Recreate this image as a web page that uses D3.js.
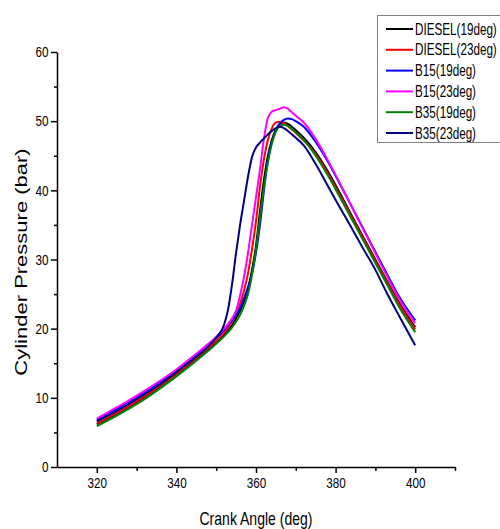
<!DOCTYPE html>
<html>
<head>
<meta charset="utf-8">
<script src="https://cdn.jsdelivr.net/npm/d3@7"></script>
<style>
  body { margin: 0; background: #fff; }
  svg { display: block; font-family: "Liberation Sans", Arial, sans-serif; }
</style>
</head>
<body>
<div id="chart"></div>
<script>
// crank angle (deg) shared by every series
var angles = [320, 324, 328, 332, 336, 340, 344, 348, 350, 352,
  353, 354, 355, 356, 357, 358, 359, 360, 361, 362, 363, 364, 365, 366, 367, 368, 369, 370,
  372, 375, 378, 381, 384, 387, 390, 393, 396, 400];

// cylinder pressure (bar)
var diesel19 = [6.2, 7.4, 8.7, 10.1, 11.7, 13.4, 15.2, 17.0, 18.0, 19.2,
  19.8, 20.5, 21.5, 22.6, 24.0, 25.8, 28.5, 32.0, 37.0, 41.5, 45.0, 47.3, 48.8, 49.6, 49.8, 49.6, 49.2, 48.7,
  47.6, 45.5, 42.8, 39.7, 36.4, 33.2, 30.0, 26.8, 23.7, 20.2];
var diesel23 = [6.3, 7.5, 8.8, 10.2, 11.8, 13.5, 15.3, 17.2, 18.2, 19.4,
  20.1, 21.0, 22.0, 23.6, 25.5, 28.0, 31.5, 35.5, 40.5, 44.5, 47.3, 49.0, 49.8, 49.9, 49.7, 49.3, 48.8, 48.3,
  47.2, 45.2, 42.5, 39.4, 36.2, 33.0, 29.8, 26.6, 23.5, 19.9];
var b15_19 = [6.8, 8.1, 9.4, 10.8, 12.3, 13.9, 15.7, 17.6, 18.6, 19.8,
  20.5, 21.2, 22.0, 23.0, 24.4, 26.0, 28.0, 31.0, 35.0, 40.0, 44.5, 47.0, 48.7, 49.7, 50.2, 50.4, 50.3, 50.0,
  49.2, 47.0, 44.2, 41.0, 37.7, 34.4, 31.1, 27.8, 24.6, 21.2];
var b15_23 = [7.0, 8.3, 9.6, 11.0, 12.5, 14.1, 15.9, 17.8, 18.8, 20.0,
  20.7, 21.5, 22.6, 24.8, 27.5, 31.0, 35.0, 39.0, 43.0, 47.5, 50.5, 51.4, 51.6, 51.8, 52.0, 51.8, 51.3, 50.8,
  49.8, 47.4, 44.4, 41.1, 37.7, 34.3, 30.9, 27.5, 24.3, 20.8];
var b35_19 = [5.9, 7.1, 8.4, 9.8, 11.4, 13.1, 14.9, 16.8, 17.8, 18.9,
  19.5, 20.2, 21.0, 22.0, 23.3, 25.0, 27.8, 31.5, 36.0, 40.5, 44.0, 46.8, 48.5, 49.3, 49.5, 49.3, 48.9, 48.4,
  47.3, 45.0, 42.2, 39.1, 35.9, 32.7, 29.5, 26.3, 23.1, 19.5];
var b35_23 = [6.6, 7.8, 9.1, 10.5, 12.0, 13.7, 15.5, 17.4, 18.7, 20.6,
  22.8, 26.5, 31.0, 35.0, 38.5, 42.0, 44.8, 46.2, 46.9, 47.5, 48.1, 48.6, 49.0, 49.2, 49.0, 48.6, 48.1, 47.6,
  46.5, 43.8, 40.7, 37.6, 34.6, 31.5, 28.5, 25.0, 21.8, 17.6];

var seriesNames = ["DIESEL(19deg)", "DIESEL(23deg)", "B15(19deg)", "B15(23deg)", "B35(19deg)", "B35(23deg)"];
var seriesValues = [diesel19, diesel23, b15_19, b15_23, b35_19, b35_23];
var seriesColors = ["#000000", "#ff0000", "#0000ff", "#ff00ff", "#008000", "#000080"];

var xMajor = [320, 340, 360, 380, 400];
var xMinor = [330, 350, 370, 390, 410];
var yMajor = [0, 10, 20, 30, 40, 50, 60];
var yMinor = [5, 15, 25, 35, 45, 55];

var svgWidth = 500, svgHeight = 529;
var squeeze = 0.78; // the source picture is narrowed horizontally

var svg = d3.select("#chart").append("svg")
  .attr("width", svgWidth)
  .attr("height", svgHeight);

svg.append("rect").attr("width", svgWidth).attr("height", svgHeight).attr("fill", "#ffffff");

// plot area
var plot = { left: 57, right: 455, top: 52, bottom: 467 };

var x = d3.scaleLinear().domain([310, 410]).range([plot.left, plot.right]);
var y = d3.scaleLinear().domain([0, 60]).range([plot.bottom, plot.top]);

// axes
var xAxis = svg.append("g")
  .attr("transform", "translate(0," + plot.bottom + ")")
  .call(d3.axisBottom(x).tickValues(xMajor).tickSize(6).tickSizeOuter(0).tickPadding(4));
svg.append("g")
  .attr("transform", "translate(0," + plot.bottom + ")")
  .call(d3.axisBottom(x).tickValues(xMinor).tickSize(4).tickSizeOuter(0).tickFormat(""))
  .select(".domain").remove();

var yAxis = svg.append("g")
  .attr("transform", "translate(" + plot.left + ",0)")
  .call(d3.axisLeft(y).tickValues(yMajor).tickSize(6).tickSizeOuter(0).tickPadding(4));
svg.append("g")
  .attr("transform", "translate(" + plot.left + ",0)")
  .call(d3.axisLeft(y).tickValues(yMinor).tickSize(3).tickSizeOuter(0).tickFormat(""))
  .select(".domain").remove();

svg.selectAll(".domain, .tick line").attr("stroke", "#000").attr("stroke-width", 1.5);
svg.selectAll(".tick text")
  .attr("font-family", "Liberation Sans, Arial, sans-serif")
  .attr("font-size", 15)
  .attr("fill", "#000")
  .attr("transform", "scale(" + squeeze + ",1)");
yAxis.selectAll(".tick text").attr("x", -11);
xAxis.selectAll(".tick text").attr("dy", "0.74em");

// axis titles
svg.append("g")
  .attr("transform", "translate(256,525) scale(" + squeeze + ",1)")
  .append("text")
  .attr("text-anchor", "middle")
  .attr("font-size", 18)
  .text("Crank Angle (deg)");

svg.append("g")
  .attr("transform", "translate(27,262) scale(" + squeeze + ",1) rotate(-90)")
  .append("text")
  .attr("text-anchor", "middle")
  .attr("font-size", 22)
  .text("Cylinder Pressure (bar)");

// curves
var line = d3.line()
  .x(function(d) { return x(d[0]); })
  .y(function(d) { return y(d[1]); })
  .curve(d3.curveMonotoneX);

seriesValues.forEach(function(vals, i) {
  svg.append("path")
    .datum(angles.map(function(a, j) { return [a, vals[j]]; }))
    .attr("fill", "none")
    .attr("stroke", seriesColors[i])
    .attr("stroke-width", 2)
    .attr("stroke-linejoin", "round")
    .attr("d", line);
});

// legend
var legend = svg.append("g");
legend.append("rect")
  .attr("x", 377.5).attr("y", 15.5)
  .attr("width", 140).attr("height", 127)
  .attr("fill", "#ffffff")
  .attr("stroke", "#808080")
  .attr("stroke-width", 1);

seriesNames.forEach(function(name, i) {
  var ry = 29 + i * 20.8;
  legend.append("line")
    .attr("x1", 386).attr("x2", 413)
    .attr("y1", ry).attr("y2", ry)
    .attr("stroke", seriesColors[i])
    .attr("stroke-width", 2);
  legend.append("g")
    .attr("transform", "translate(415," + (ry + 5.5) + ") scale(0.73,1)")
    .append("text")
    .attr("font-size", 16)
    .text(name);
});
</script>
</body>
</html>
